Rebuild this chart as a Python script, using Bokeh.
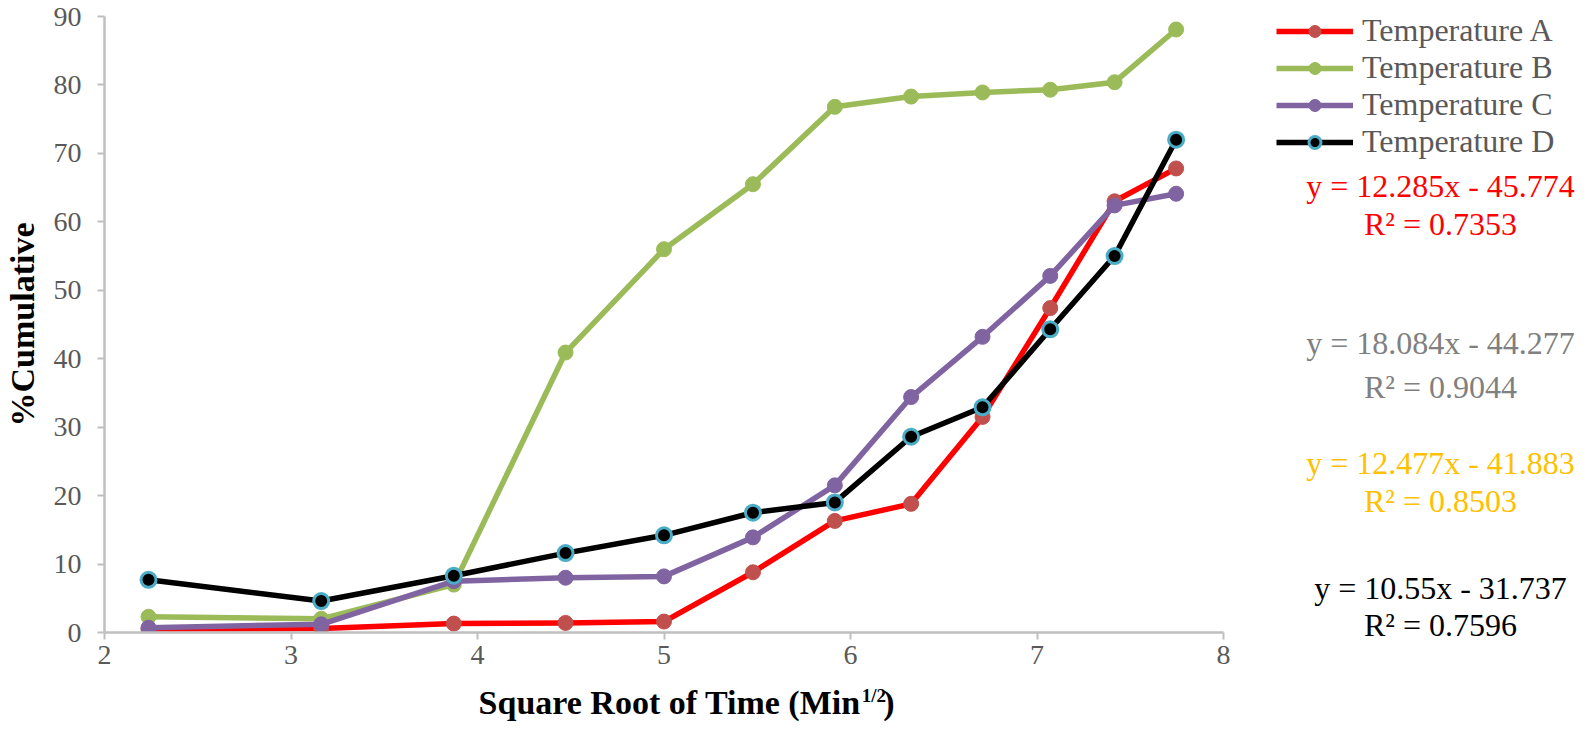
from bokeh.plotting import figure
from bokeh.models import Range1d, FixedTicker, Legend, LegendItem, Label
from bokeh.layouts import row, column
from bokeh.embed import file_html
from bokeh.resources import INLINE

# ---- data ----
sqrt_time = [2.236, 3.162, 3.873, 4.472, 5.000, 5.477, 5.916, 6.325, 6.708, 7.071, 7.416, 7.746]
temp_a = [0.5, 0.6, 1.3, 1.4, 1.6, 8.8, 16.3, 18.8, 31.5, 47.4, 63.0, 67.8]
temp_b = [2.3, 2.0, 7.0, 40.9, 56.0, 65.5, 76.8, 78.3, 78.9, 79.3, 80.4, 88.1]
temp_c = [0.7, 1.2, 7.5, 8.0, 8.2, 13.9, 21.5, 34.4, 43.2, 52.1, 62.4, 64.1]
temp_d = [7.7, 4.6, 8.3, 11.6, 14.2, 17.5, 19.0, 28.6, 32.9, 44.3, 55.0, 72.0]
series_names = ["Temperature A", "Temperature B", "Temperature C", "Temperature D"]
x_ticks = [2, 3, 4, 5, 6, 7, 8]
y_ticks = [0, 10, 20, 30, 40, 50, 60, 70, 80, 90]
equations = ["y = 12.285x - 45.774", "y = 18.084x - 44.277", "y = 12.477x - 41.883", "y = 10.55x - 31.737"]
r_squared = ["R\u00b2 = 0.7353", "R\u00b2 = 0.9044", "R\u00b2 = 0.8503", "R\u00b2 = 0.7596"]
x_title_main = "Square Root of Time (Min"
x_title_sup = "1/2"
x_title_end = ")"
y_title = "%Cumulative"

FONT = "Liberation Serif"
line_colors = ["#FF0000", "#9BBB59", "#8064A2", "#000000"]
fill_colors = ["#C0504D", "#9BBB59", "#8064A2", "#000000"]
edge_colors = ["#C0504D", "#9BBB59", "#8064A2", "#4BACC6"]
edge_widths = [1, 1, 1, 3]
eq_colors = ["#FF0000", "#808080", "#FFC000", "#000000"]
all_series = [temp_a, temp_b, temp_c, temp_d]

TOTAL_W = 1576
TOTAL_H = 722
MAIN_W = 1237
MAIN_H = 682

# ---- main chart ----
p = figure(width=MAIN_W, height=MAIN_H, output_backend="svg", toolbar_location=None,
           x_range=Range1d(2, 8), y_range=Range1d(0, 90),
           min_border_left=101, min_border_right=14, min_border_top=16, min_border_bottom=50)
p.outline_line_color = None
p.grid.visible = False

for ax in (p.xaxis[0], p.yaxis[0]):
    ax.axis_line_color = "#BFBFBF"
    ax.axis_line_width = 2.5
    ax.major_tick_line_color = "#BFBFBF"
    ax.major_tick_line_width = 2
    ax.major_tick_in = 0
    ax.major_tick_out = 7
    ax.minor_tick_line_color = None
    ax.major_label_text_font = FONT
    ax.major_label_text_font_size = "28px"
    ax.major_label_text_color = "#595959"

p.xaxis.ticker = FixedTicker(ticks=x_ticks)
p.yaxis.ticker = FixedTicker(ticks=y_ticks)
p.xaxis.major_label_standoff = 6
p.xaxis.axis_label_standoff = 0
p.yaxis.major_label_standoff = 16

p.yaxis.axis_label = y_title
p.yaxis.axis_label_text_font = FONT
p.yaxis.axis_label_text_font_style = "bold"
p.yaxis.axis_label_text_font_size = "34px"
p.yaxis.axis_label_text_color = "black"
p.yaxis.axis_label_standoff = 10

for ys, lc, fc, ec, ew in zip(all_series, line_colors, fill_colors, edge_colors, edge_widths):
    p.line(sqrt_time, ys, line_color=lc, line_width=5.5, line_join="round")
    p.scatter(sqrt_time, ys, size=15, fill_color=fc, line_color=ec, line_width=ew)

strip_h = TOTAL_H - MAIN_H

# ---- x-axis title strip (y measured downward from the strip top) ----
pb = figure(width=MAIN_W, height=strip_h, output_backend="svg", toolbar_location=None,
            x_range=Range1d(0, MAIN_W), y_range=Range1d(strip_h, 0),
            x_axis_type=None, y_axis_type=None, min_border=0)
pb.outline_line_color = None
pb.grid.visible = False
pb.add_layout(Label(x=836, y=strip_h / 2, text=x_title_main, text_align="right",
                    text_baseline="middle", text_font=FONT, text_font_style="bold",
                    text_font_size="34px", text_color="black"))
pb.add_layout(Label(x=837, y=2, text=x_title_sup, text_align="left",
                    text_baseline="top", text_font=FONT, text_font_style="bold",
                    text_font_size="19px", text_color="black"))
pb.add_layout(Label(x=861, y=strip_h / 2, text=x_title_end, text_align="left",
                    text_baseline="middle", text_font=FONT, text_font_style="bold",
                    text_font_size="34px", text_color="black"))

# ---- legend and trendline equations (y measured downward from top) ----
side_w = TOTAL_W - MAIN_W
ps = figure(width=side_w, height=TOTAL_H, output_backend="svg", toolbar_location=None,
            x_range=Range1d(0, side_w), y_range=Range1d(TOTAL_H, 0),
            x_axis_type=None, y_axis_type=None, min_border=0)
ps.outline_line_color = None
ps.grid.visible = False

items = []
for name, lc, fc, ec, ew in zip(series_names, line_colors, fill_colors, edge_colors, edge_widths):
    r1 = ps.line([-200, -100], [-200, -200], line_color=lc, line_width=5.5)
    r2 = ps.scatter([-150], [-200], size=15, fill_color=fc, line_color=ec, line_width=ew)
    items.append(LegendItem(label=name, renderers=[r1, r2]))

legend = Legend(items=items, location=(39, TOTAL_H - 160), orientation="vertical",
                glyph_width=77, glyph_height=30, label_height=30, spacing=0,
                padding=0, margin=0, label_standoff=9,
                label_text_font=FONT, label_text_font_size="32px",
                label_text_color="#595959",
                border_line_color=None, background_fill_alpha=0)
ps.add_layout(legend, "center")

eq_y = [185, 342, 462, 587]
r2_y = [223, 386, 500.5, 624]
for eq, r2, c, y1, y2 in zip(equations, r_squared, eq_colors, eq_y, r2_y):
    ps.add_layout(Label(x=203, y=y1, text=eq, text_align="center", text_baseline="middle",
                        text_font=FONT, text_font_size="32px", text_color=c))
    ps.add_layout(Label(x=203, y=y2, text=r2, text_align="center", text_baseline="middle",
                        text_font=FONT, text_font_size="32px", text_color=c))

layout = row(column(p, pb), ps)
open("out.html", "w").write(file_html(layout, INLINE))
